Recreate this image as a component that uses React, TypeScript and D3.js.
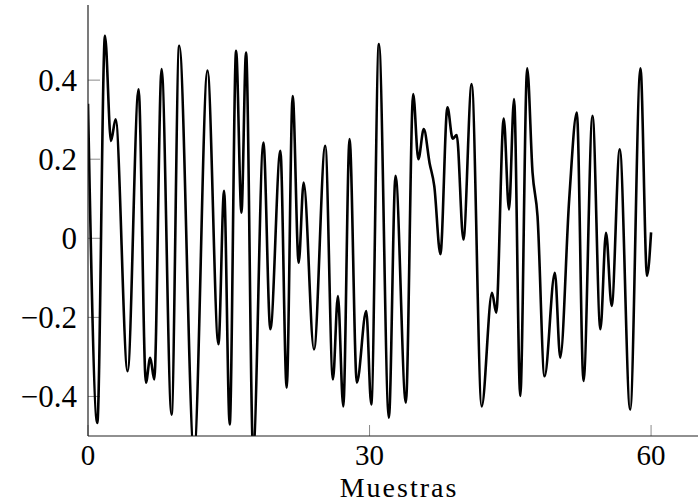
import * as d3 from 'd3';

const WIDTH = 699;
const HEIGHT = 504;

// sample positions (at local extrema / shoulders)
const sampleX = [
  0, 0.99, 1.81, 2.45, 2.94, 4.22, 5.39, 6.17, 6.63, 7.06, 7.84, 8.9, 9.72, 11.3, 12.73, 13.9, 14.5, 15.1,
  15.78, 16.35, 16.84, 17.6, 18.69, 19.43, 20.5, 21.17, 21.81, 22.45, 22.98, 24.08, 25.28, 26.1, 26.63, 27.2,
  27.87, 28.65, 29.65, 30.18, 31.0, 32.06, 32.77, 33.87, 34.65, 35.2, 35.78, 36.4, 36.9, 37.55, 38.3, 38.86,
  39.29, 40.0, 40.88, 41.95, 43.05, 43.5, 44.3, 44.86, 45.4, 46.06, 46.8, 47.37, 47.9, 48.65, 49.75, 50.32,
  51.28, 52.09, 52.8, 53.76, 54.6, 55.2, 55.8, 56.66, 57.77, 58.87, 59.57, 60.0,
];
const sampleY = [
  0.34, -0.467, 0.512, 0.246, 0.301, -0.336, 0.377, -0.365, -0.302, -0.357, 0.428, -0.446, 0.487, -0.54, 0.424,
  -0.268, 0.12, -0.471, 0.474, 0.065, 0.47, -0.54, 0.242, -0.23, 0.221, -0.378, 0.36, -0.062, 0.141, -0.281,
  0.234, -0.357, -0.146, -0.425, 0.251, -0.365, -0.184, -0.42, 0.491, -0.454, 0.158, -0.416, 0.365, 0.2, 0.276,
  0.19, 0.132, -0.04, 0.331, 0.252, 0.261, -0.003, 0.39, -0.425, -0.138, -0.188, 0.303, 0.073, 0.352, -0.399,
  0.43, 0.166, 0.056, -0.349, -0.087, -0.302, 0.1, 0.318, -0.361, 0.31, -0.23, 0.014, -0.171, 0.225, -0.433,
  0.43, -0.095, 0.015,
];

const xTicks = [0, 30, 60];
const yTicks = [-0.4, -0.2, 0, 0.2, 0.4];
const xLabel = 'Muestras';

const FONT = '"Liberation Serif", "Times New Roman", serif';

const App = () => {
  const xScale = d3.scaleLinear().domain([0, 65]).range([88, 698]);
  const yScale = d3.scaleLinear().domain([-0.5, 0.59]).range([436, 5]);

  const [x0, x1] = xScale.range();
  const [yBottom, yTop] = yScale.range();

  const points: [number, number][] = sampleX.map((x, i) => [x, sampleY[i]]);
  const line = d3
    .line<[number, number]>()
    .x((d) => xScale(d[0]))
    .y((d) => yScale(d[1]))
    .curve(d3.curveMonotoneX);

  const fmt = (v: number) => (v === 0 ? '0' : (v < 0 ? '\u2212' : '') + Math.abs(v).toFixed(1));

  return (
    <div style={{ position: 'absolute', left: 0, top: 0 }}>
      <svg width={WIDTH} height={HEIGHT} style={{ display: 'block', background: '#fff' }}>
        <defs>
          <clipPath id="plot-area">
            <rect x={x0} y={yTop} width={x1 - x0} height={yBottom - yTop} />
          </clipPath>
        </defs>

        {/* ticks (inside the axes, pgfplots style) */}
        {yTicks.map((v, i) => (
          <g key={'y' + i}>
            <line x1={x0} x2={x0 + 12} y1={yScale(v)} y2={yScale(v)} stroke="#8a8a8a" strokeWidth={1} />
            <text
              x={x0 - 11}
              y={yScale(v)}
              dy="0.34em"
              textAnchor="end"
              fontFamily={FONT}
              fontSize={31}
              fill="#000"
            >
              {fmt(v)}
            </text>
          </g>
        ))}
        {xTicks.map((v, i) => (
          <g key={'x' + i}>
            <line x1={xScale(v)} x2={xScale(v)} y1={yBottom} y2={yBottom - 11} stroke="#8a8a8a" strokeWidth={1} />
            <text x={xScale(v)} y={465} textAnchor="middle" fontFamily={FONT} fontSize={29} fill="#000">
              {v}
            </text>
          </g>
        ))}

        <path
          d={line(points) ?? ''}
          fill="none"
          stroke="#000"
          strokeWidth={2.6}
          strokeLinejoin="round"
          clipPath="url(#plot-area)"
        />

        {/* axis lines */}
        <line x1={x0} x2={x0} y1={yTop} y2={yBottom} stroke="#222" strokeWidth={1.2} />
        <line x1={x0} x2={x1} y1={yBottom} y2={yBottom} stroke="#222" strokeWidth={1.2} />

        <text
          x={399}
          y={497}
          textAnchor="middle"
          fontFamily={FONT}
          fontSize={28}
          letterSpacing={2}
          fill="#000"
        >
          {xLabel}
        </text>
      </svg>
    </div>
  );
};

export default App;
